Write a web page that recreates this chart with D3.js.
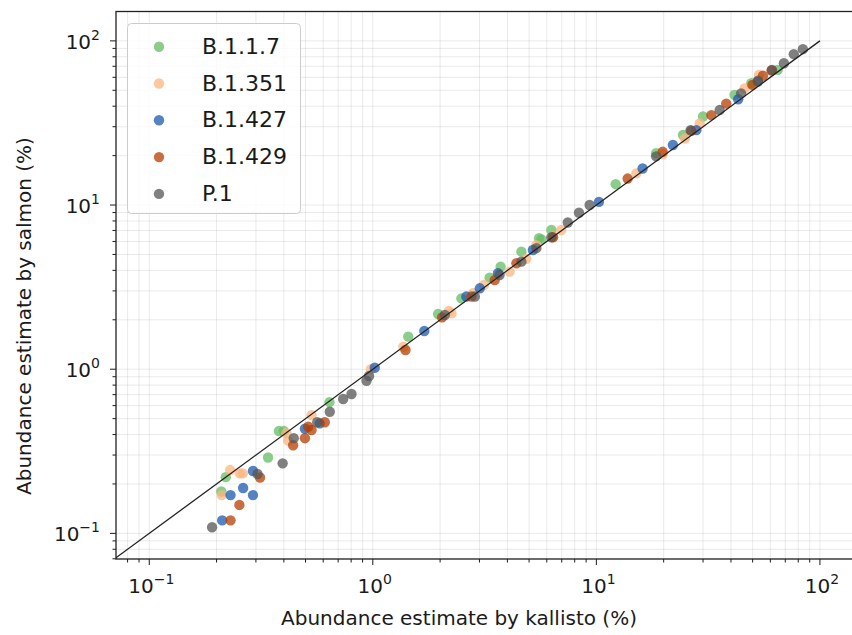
<!DOCTYPE html>
<html>
<head>
<meta charset="utf-8">
<script src="https://cdn.jsdelivr.net/npm/d3@7"></script>
<style>
  body { margin: 0; background: #ffffff; }
  svg { display: block; }
  text { font-family: "DejaVu Sans", sans-serif; fill: #1a1a1a; }
</style>
</head>
<body>
<svg id="chart" width="852" height="635"></svg>
<script>
// Variant abundance (%) estimated by kallisto (x) and salmon (y)
const seriesNames = ["B.1.1.7", "B.1.351", "B.1.427", "B.1.429", "P.1"];
const seriesColors = ["#66bc66", "#fcb680", "#1c58af", "#b63e00", "#565656"];

const b117Kallisto = [0.22, 0.21, 0.34, 0.38, 0.40, 0.64, 1.44, 1.96, 2.49, 3.33, 3.73, 4.62, 5.54, 5.68, 6.29, 12.2, 18.5, 24.4, 30.0, 41.5, 49.3, 64.8];
const b117Salmon   = [0.22, 0.18, 0.29, 0.42, 0.42, 0.63, 1.58, 2.17, 2.70, 3.61, 4.21, 5.20, 6.28, 6.18, 7.05, 13.4, 20.7, 26.7, 34.6, 46.9, 55.2, 66.6];

const b1351Kallisto = [0.23, 0.254, 0.262, 0.211, 0.411, 0.418, 0.532, 0.98, 1.37, 2.19, 2.25, 2.81, 3.14, 4.09, 4.86, 5.39, 6.4, 6.97, 15.1, 19.8, 24.9, 29.0, 46.0, 53.4];
const b1351Salmon   = [0.243, 0.232, 0.232, 0.171, 0.407, 0.367, 0.525, 1.00, 1.37, 2.26, 2.19, 2.90, 3.26, 3.93, 4.70, 5.70, 6.43, 7.05, 15.6, 20.4, 25.4, 31.4, 51.4, 62.0];

const b1427Kallisto = [0.291, 0.263, 0.231, 0.291, 0.212, 0.497, 0.579, 1.02, 1.70, 2.62, 3.01, 3.63, 5.20, 10.27, 16.1, 22.0, 28.0, 43.1, 52.8];
const b1427Salmon   = [0.240, 0.189, 0.171, 0.171, 0.120, 0.434, 0.468, 1.02, 1.71, 2.77, 3.11, 3.84, 5.32, 10.45, 16.7, 23.2, 28.6, 44.1, 56.5];

const b1429Kallisto = [0.253, 0.231, 0.313, 0.44, 0.497, 0.514, 0.532, 0.61, 1.40, 2.04, 2.76, 3.51, 4.39, 6.40, 13.8, 19.8, 26.6, 32.7, 38.1, 49.9, 55.6, 60.8];
const b1429Salmon   = [0.149, 0.120, 0.219, 0.344, 0.380, 0.446, 0.426, 0.475, 1.31, 2.07, 2.77, 3.49, 4.42, 6.36, 14.5, 21.1, 28.3, 35.3, 41.5, 53.9, 61.3, 66.0];

const p1Kallisto = [0.191, 0.305, 0.395, 0.443, 0.564, 0.642, 0.737, 0.803, 0.937, 0.962, 2.10, 2.86, 3.69, 4.62, 5.39, 6.29, 7.45, 8.36, 9.33, 18.5, 26.4, 35.6, 44.4, 52.8, 61.0, 69.0, 76.4, 83.9];
const p1Salmon   = [0.109, 0.230, 0.267, 0.380, 0.475, 0.551, 0.658, 0.706, 0.851, 0.909, 2.14, 2.77, 3.75, 4.52, 5.46, 6.36, 7.83, 8.98, 10.0, 19.8, 28.6, 37.9, 47.9, 57.2, 66.6, 73.1, 83.0, 89.0];

const seriesX = [b117Kallisto, b1351Kallisto, b1427Kallisto, b1429Kallisto, p1Kallisto];
const seriesY = [b117Salmon, b1351Salmon, b1427Salmon, b1429Salmon, p1Salmon];

// Identity reference line y = x
const identityLine = [0.07, 100];

const xLimits = [0.071, 145];
const yLimits = [0.0698, 151];
const majorTicks = [0.1, 1, 10, 100];
const majorExponents = ["\u22121", "0", "1", "2"];

const xLabel = "Abundance estimate by kallisto (%)";
const yLabel = "Abundance estimate by salmon (%)";

const svg = d3.select("#chart");
const plot = { left: 116, right: 856, top: 11.5, bottom: 559 };

const x = d3.scaleLog().domain(xLimits).range([plot.left, plot.right]);
const y = d3.scaleLog().domain(yLimits).range([plot.bottom, plot.top]);

svg.append("defs").append("clipPath").attr("id", "plot-clip")
  .append("rect")
  .attr("x", plot.left).attr("y", plot.top)
  .attr("width", plot.right - plot.left).attr("height", plot.bottom - plot.top);

// Major and minor grid values for each decade
function logGridValues(domain) {
  const vals = [];
  for (let e = -3; e <= 3; e++) {
    for (let k = 1; k <= 9; k++) {
      const v = k * Math.pow(10, e);
      if (v >= domain[0] && v <= domain[1]) vals.push(v);
    }
  }
  return vals;
}
const xGrid = logGridValues(xLimits);
const yGrid = logGridValues(yLimits);

const grid = svg.append("g").attr("stroke", "#b0b0b0").attr("stroke-opacity", 0.3).attr("stroke-width", 0.9);
grid.selectAll("line.gx").data(xGrid).join("line")
  .attr("x1", d => x(d)).attr("x2", d => x(d))
  .attr("y1", plot.top).attr("y2", plot.bottom);
grid.selectAll("line.gy").data(yGrid).join("line")
  .attr("y1", d => y(d)).attr("y2", d => y(d))
  .attr("x1", plot.left).attr("x2", plot.right);

// Scatter points
const pts = svg.append("g").attr("clip-path", "url(#plot-clip)");
seriesNames.forEach((name, i) => {
  const data = seriesX[i].map((v, j) => [v, seriesY[i][j]]);
  pts.append("g").selectAll("circle").data(data).join("circle")
    .attr("cx", d => x(d[0]))
    .attr("cy", d => y(d[1]))
    .attr("r", 5.2)
    .attr("fill", seriesColors[i])
    .attr("fill-opacity", 0.75);
});

// y = x line
svg.append("g").attr("clip-path", "url(#plot-clip)")
  .append("path")
  .attr("d", d3.line().x(d => x(d)).y(d => y(d))(identityLine))
  .attr("fill", "none")
  .attr("stroke", "#222222")
  .attr("stroke-width", 1.3);

// Axes with log ticks
const xAxis = d3.axisBottom(x).tickValues(xGrid).tickSizeOuter(0)
  .tickSize(0).tickFormat("");
const axisG = svg.append("g");

// Tick marks
const ticks = axisG.append("g").attr("stroke", "#1a1a1a").attr("stroke-width", 1);
ticks.selectAll("line.tx").data(xGrid).join("line")
  .attr("x1", d => x(d)).attr("x2", d => x(d))
  .attr("y1", plot.bottom)
  .attr("y2", d => plot.bottom + (majorTicks.includes(d) ? 6 : 3.5));
ticks.selectAll("line.ty").data(yGrid).join("line")
  .attr("y1", d => y(d)).attr("y2", d => y(d))
  .attr("x1", plot.left)
  .attr("x2", d => plot.left - (majorTicks.includes(d) ? 6 : 3.5));

// Tick labels
const xLab = axisG.append("g").selectAll("text").data(majorTicks).join("text")
  .attr("x", d => x(d) + 2)
  .attr("y", plot.bottom + 34)
  .attr("text-anchor", "middle")
  .attr("font-size", 20);
xLab.append("tspan").text("10");
xLab.append("tspan").attr("dy", -9).attr("font-size", 14).text((d, i) => majorExponents[i]);

const yLab = axisG.append("g").selectAll("text").data(majorTicks).join("text")
  .attr("x", 100)
  .attr("y", d => y(d) + 8)
  .attr("text-anchor", "end")
  .attr("font-size", 20);
yLab.append("tspan").text("10");
yLab.append("tspan").attr("dy", -9).attr("font-size", 14).text((d, i) => majorExponents[i]);

// Spines
svg.append("rect")
  .attr("x", plot.left).attr("y", plot.top)
  .attr("width", plot.right - plot.left).attr("height", plot.bottom - plot.top)
  .attr("fill", "none").attr("stroke", "#222222").attr("stroke-width", 1.3);

// Axis titles
svg.append("text")
  .attr("x", 459).attr("y", 625)
  .attr("text-anchor", "middle").attr("font-size", 20)
  .text(xLabel);
svg.append("text")
  .attr("transform", "translate(31,316) rotate(-90)")
  .attr("text-anchor", "middle").attr("font-size", 20)
  .text(yLabel);

// Legend
const legend = svg.append("g");
legend.append("rect")
  .attr("x", 127.5).attr("y", 23.5).attr("width", 173).attr("height", 190)
  .attr("rx", 4).attr("fill", "#ffffff").attr("fill-opacity", 0.8)
  .attr("stroke", "#cccccc").attr("stroke-width", 1);
const items = legend.selectAll("g.item").data(seriesNames).join("g")
  .attr("transform", (d, i) => `translate(0,${46.7 + i * 36.8})`);
items.append("circle")
  .attr("cx", 159).attr("cy", 0).attr("r", 5.2)
  .attr("fill", (d, i) => seriesColors[i]).attr("fill-opacity", 0.75);
items.append("text")
  .attr("x", 202).attr("y", 7)
  .attr("font-size", 22)
  .text(d => d);
</script>
</body>
</html>
